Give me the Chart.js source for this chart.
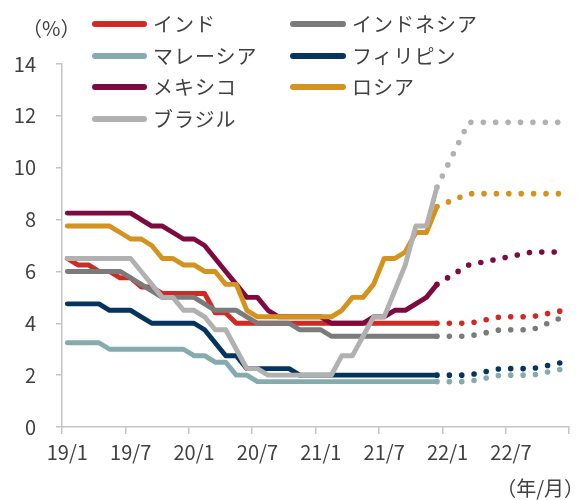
<!DOCTYPE html>
<html><head><meta charset="utf-8">
<script src="https://cdn.jsdelivr.net/npm/chart.js@4.4.1/dist/chart.umd.min.js"></script>
<style>
html,body{margin:0;padding:0;background:#fff;}
#wrap{position:relative;width:584px;height:500px;font-family:"Noto Sans CJK JP","Noto Sans",sans-serif;color:#404040;overflow:hidden;}
canvas{position:absolute;left:0;top:0;}
.lg{position:absolute;font-size:20px;line-height:24px;white-space:nowrap;letter-spacing:1px;}
.sw{position:absolute;height:6px;border-radius:3px;}
</style></head><body>
<div id="wrap"><canvas id="c" width="584" height="500"></canvas>
<div id="legend"></div>
<div class="lg" style="left:22px;top:16px;letter-spacing:0">（%）</div>
<div class="lg" style="right:0px;top:476px;letter-spacing:0">（年/月）</div>
</div>
<script>
const categories = ['19/1','19/2','19/3','19/4','19/5','19/6','19/7','19/8','19/9','19/10','19/11','19/12',
 '20/1','20/2','20/3','20/4','20/5','20/6','20/7','20/8','20/9','20/10','20/11','20/12',
 '21/1','21/2','21/3','21/4','21/5','21/6','21/7','21/8','21/9','21/10','21/11','21/12',
 '22/1','22/2','22/3','22/4','22/5','22/6','22/7','22/8','22/9','22/10','22/11','22/12'];
const tickLabels = ['19/1','19/7','20/1','20/7','21/1','21/7','22/1','22/7'];
const seriesNames = ['インド','インドネシア','マレーシア','フィリピン','メキシコ','ロシア','ブラジル'];
const seriesColors = ['#d12a25','#7b7b7b','#86abaf','#05345f','#7d0b3f','#d4921f','#b1b1b1'];

// actual policy rates 19/1 - 21/12
const india = [6.5,6.25,6.25,6.0,6.0,5.75,5.75,5.4,5.4,5.15,5.15,5.15,
 5.15,5.15,4.4,4.4,4.0,4.0,4.0,4.0,4.0,4.0,4.0,4.0,
 4.0,4.0,4.0,4.0,4.0,4.0,4.0,4.0,4.0,4.0,4.0,4.0];
const indonesia = [6.0,6.0,6.0,6.0,6.0,6.0,5.75,5.5,5.25,5.0,5.0,5.0,
 5.0,4.75,4.5,4.5,4.5,4.25,4.0,4.0,4.0,4.0,3.75,3.75,
 3.75,3.5,3.5,3.5,3.5,3.5,3.5,3.5,3.5,3.5,3.5,3.5];
const malaysia = [3.25,3.25,3.25,3.25,3.0,3.0,3.0,3.0,3.0,3.0,3.0,3.0,
 2.75,2.75,2.5,2.5,2.0,2.0,1.75,1.75,1.75,1.75,1.75,1.75,
 1.75,1.75,1.75,1.75,1.75,1.75,1.75,1.75,1.75,1.75,1.75,1.75];
const philippines = [4.75,4.75,4.75,4.75,4.5,4.5,4.5,4.25,4.0,4.0,4.0,4.0,
 4.0,3.75,3.25,2.75,2.75,2.25,2.25,2.25,2.25,2.25,2.0,2.0,
 2.0,2.0,2.0,2.0,2.0,2.0,2.0,2.0,2.0,2.0,2.0,2.0];
const mexico = [8.25,8.25,8.25,8.25,8.25,8.25,8.25,8.0,7.75,7.75,7.5,7.25,
 7.25,7.0,6.5,6.0,5.5,5.0,5.0,4.5,4.25,4.25,4.25,4.25,
 4.25,4.0,4.0,4.0,4.0,4.25,4.25,4.5,4.5,4.75,5.0,5.5];
const russia = [7.75,7.75,7.75,7.75,7.75,7.5,7.25,7.25,7.0,6.5,6.5,6.25,
 6.25,6.0,6.0,5.5,5.5,4.5,4.25,4.25,4.25,4.25,4.25,4.25,
 4.25,4.25,4.5,5.0,5.0,5.5,6.5,6.5,6.75,7.5,7.5,8.5];
const brazil = [6.5,6.5,6.5,6.5,6.5,6.5,6.5,6.0,5.5,5.0,5.0,4.5,
 4.5,4.25,3.75,3.75,3.0,2.25,2.25,2.0,2.0,2.0,2.0,2.0,
 2.0,2.0,2.75,2.75,3.5,4.25,4.25,5.25,6.25,7.75,7.75,9.25];

// forecasts (dotted): 21/12 (last actual), 22/3, 22/6, 22/9, 22/12
const forecastMonths = ['21/12','22/3','22/6','22/9','22/12'];
const indiaF = [4.0,4.0,4.25,4.25,4.5];
const indonesiaF = [3.5,3.5,3.75,3.75,4.25];
const malaysiaF = [1.75,1.75,2.0,2.0,2.25];
const philippinesF = [2.0,2.0,2.25,2.25,2.5];
const mexicoF = [5.5,6.25,6.5,6.75,6.75];
const russiaF = [8.5,9.0,9.0,9.0,9.0];
const brazilF = [9.25,11.75,11.75,11.75,11.75];

const actual = [india,indonesia,malaysia,philippines,mexico,russia,brazil];
const forecast = [indiaF,indonesiaF,malaysiaF,philippinesF,mexicoF,russiaF,brazilF];

function spread(vals){
  const out = categories.map(()=>null);
  forecastMonths.forEach((m,i)=>{ out[categories.indexOf(m)] = vals[i]; });
  return out;
}

const datasets = [];
seriesNames.forEach((name,i)=>{
  datasets.push({label:name, data:actual[i], borderColor:seriesColors[i], borderWidth:4.9,
    pointRadius:0, tension:0, borderCapStyle:'round', borderJoinStyle:'round', order:20-2*i, fill:false});
  datasets.push({label:name+'予測', data:spread(forecast[i]), borderColor:seriesColors[i], borderWidth:5.6,
    pointRadius:0, tension:0, spanGaps:true, borderDash:[0,12.4], borderCapStyle:'round', borderJoinStyle:'round', order:21-2*i, fill:false});
});

const axisColor = '#c4c4c4';
const textColor = '#404040';
const fontFam = '"Noto Sans CJK JP","Noto Sans",sans-serif';

new Chart(document.getElementById('c'), {
  type:'line',
  data:{labels:categories, datasets},
  options:{
    responsive:false, animation:false, devicePixelRatio:1,
    layout:{padding:{left:0,right:15,top:64,bottom:0}},
    plugins:{legend:{display:false}, tooltip:{enabled:false}},
    scales:{
      x:{type:'category', offset:true,
        grid:{offset:true, drawOnChartArea:false, drawTicks:true, tickLength:7, lineWidth:1.5,
          color:(c)=> (c.type!=='tick' || c.index%6===0) ? axisColor : 'rgba(0,0,0,0)'},
        border:{color:axisColor, width:1.5},
        ticks:{autoSkip:false, maxRotation:0, minRotation:0, padding:6, color:textColor,
          font:{family:fontFam,size:20},
          callback:function(v,idx){ const l = categories[idx]; return tickLabels.includes(l) ? l : ''; }},
        afterFit:(s)=>{ s.height = 73; }
      },
      y:{min:0,max:14,
        grid:{drawOnChartArea:false, drawTicks:true, tickLength:6, color:axisColor, lineWidth:1.5},
        border:{color:axisColor, width:1.5},
        ticks:{stepSize:2, padding:20, color:textColor, font:{family:fontFam,size:20}},
        afterFit:(s)=>{ s.width = 62; }
      }
    }
  }
});

// legend (2 columns)
const lg = document.getElementById('legend');
const rowY = [24,55.5,87,118.5];
const colLine = [[92,147],[290,346]];
const colText = [153,352];
seriesNames.forEach((name,i)=>{
  const col = i%2, row = Math.floor(i/2);
  const sw = document.createElement('div');
  sw.className='sw';
  sw.style.left = colLine[col][0]+'px';
  sw.style.width = (colLine[col][1]-colLine[col][0])+'px';
  sw.style.top = (rowY[row]-3)+'px';
  sw.style.background = seriesColors[i];
  lg.appendChild(sw);
  const t = document.createElement('div');
  t.className='lg';
  t.textContent = name;
  t.style.left = colText[col]+'px';
  t.style.top = (rowY[row]-12)+'px';
  lg.appendChild(t);
});
</script>
</body></html>
